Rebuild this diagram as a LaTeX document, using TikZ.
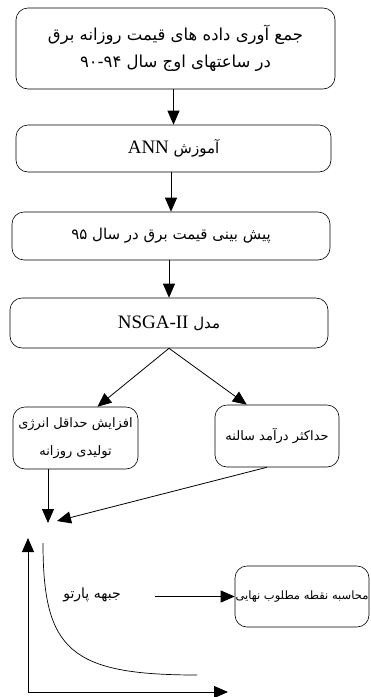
\documentclass[tikz,border=0pt]{standalone}
\usepackage{fontspec}
\setmainfont{Liberation Serif}
\newfontfamily\farsi[Script=Arabic]{DejaVu Sans}
\TeXXeTstate=1
\usetikzlibrary{arrows.meta}

\tikzset{
  stepbox/.style={draw, rounded corners=12pt, line width=0.6pt, align=center,
    font=\farsi\fontsize{15}{27}\selectfont, inner sep=0pt},
  smallbox/.style={stepbox, font=\farsi\fontsize{13}{28}\selectfont},
  arr/.style={line width=0.8pt, -{Triangle[length=14pt,width=12pt]}}
}
\newcommand{\latin}[1]{\beginL{\rmfamily\fontsize{19}{20}\selectfont #1}\endL}

\begin{document}
\begin{tikzpicture}[x=1pt,y=-1pt]
 \path[use as bounding box] (0,0) rectangle (370,697);
\node[stepbox, minimum width=319pt, minimum height=81pt, font=\farsi\fontsize{16.5}{27}\selectfont] (collect) at (175.5,48.5)
  {\beginR جمع آوری داده های قیمت روزانه برق\endR\\\beginR در ساعتهای اوج سال \beginL۹۰{-}۹۴\endL\endR};
\node[stepbox, minimum width=315pt, minimum height=47pt] (train) at (173.5,148.5)
  {\beginR آموزش \latin{ANN}\endR};
\node[stepbox, minimum width=318pt, minimum height=48pt] (forecast) at (171,236)
  {\beginR پیش بینی قیمت برق در سال ۹۵\endR};
\node[stepbox, minimum width=318pt, minimum height=50pt] (nsga) at (169,323)
  {\beginR مدل \latin{NSGA-II}\endR};

\node[smallbox, minimum width=125pt, minimum height=62pt] (minobj) at (75.5,438)
  {\beginR افزایش حداقل انرژی\endR\\\beginR تولیدی روزانه\endR};
\node[smallbox, minimum width=124pt, minimum height=62pt] (maxobj) at (277,436)
  {\beginR حداکثر درآمد سالنه\endR};
\node[smallbox, minimum width=134pt, minimum height=61pt, font=\farsi\fontsize{11.5}{13}\selectfont] (final) at (302,596.5)
  {\beginR محاسبه نقطه مطلوب نهایی\endR};

\draw[arr] (train.north |- collect.south) -- (train.north);
\draw[arr] (forecast.north |- train.south) -- (forecast.north);
\draw[arr] (nsga.north |- forecast.south) -- (nsga.north);
\draw[arr] (nsga.south) -- (minobj.55);
\draw[arr] (nsga.south) -- (maxobj.134);

\coordinate (meetL) at (48,523);
\coordinate (meetR) at (57,521);
\draw[arr] (meetL |- minobj.south) -- (meetL);
\draw[arr] (maxobj.252) -- (meetR);

% pareto front
\coordinate (origin) at (28,692);
\coordinate (yaxis) at (28,538);
\coordinate (xaxis) at (228,692);
\draw[arr] (origin) -- (yaxis);
\draw[arr] (origin) -- (xaxis);
\draw[line width=0.7pt] (43,543) .. controls (43,650) and (70,675) .. (197,675);

\node[font=\farsi\fontsize{14}{16}\selectfont] (front) at (92,595) {\beginR جبهه پارتو\endR};
\coordinate (frontEnd) at (155,596.5);
\draw[arr] (frontEnd) -- (final.west);

\end{tikzpicture}
\end{document}
